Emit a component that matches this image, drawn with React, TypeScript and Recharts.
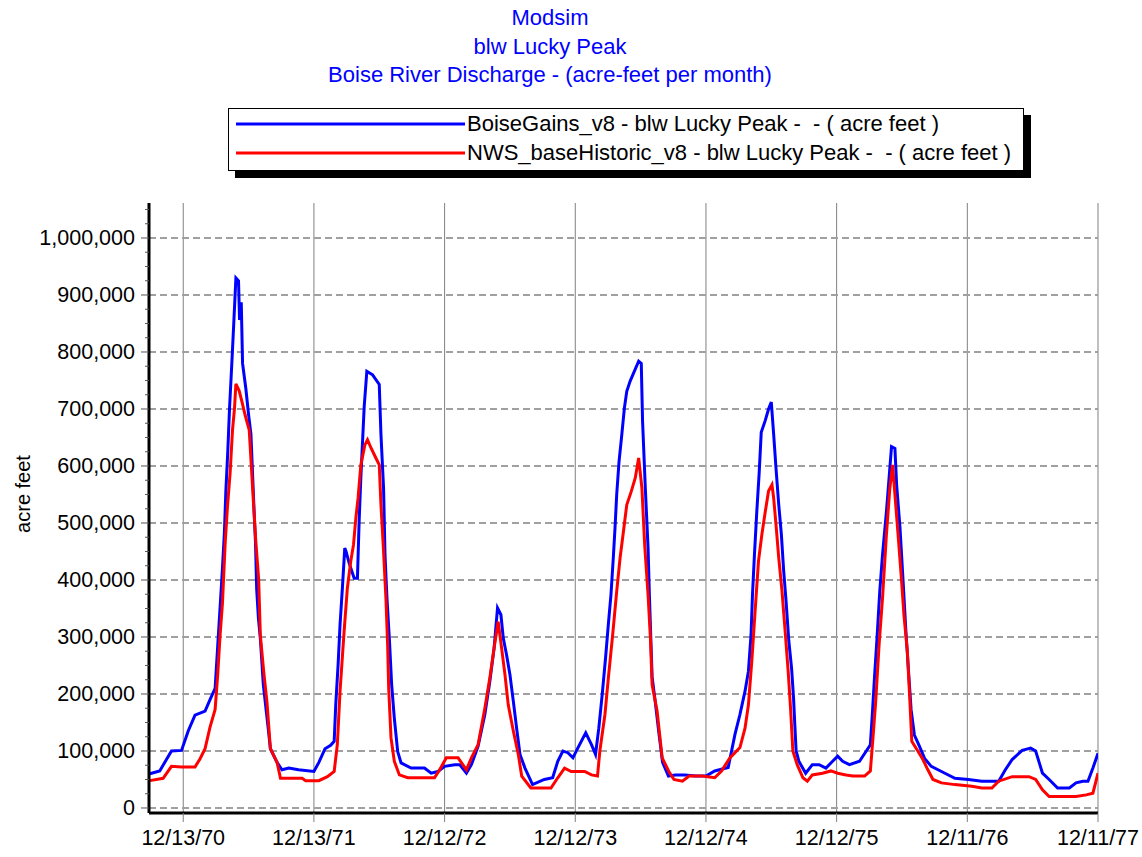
import React from 'react';
import { LineChart, Line, XAxis, YAxis, CartesianGrid, Legend } from 'recharts';

const titleLines = ['Modsim', 'blw Lucky Peak', 'Boise River Discharge - (acre-feet per month)'];
const seriesNames = [
  'BoiseGains_v8 - blw Lucky Peak -  - ( acre feet )',
  'NWS_baseHistoric_v8 - blw Lucky Peak -  - ( acre feet )',
];
const seriesColors = ['#0000FF', '#FF0000'];
const yAxisTitle = 'acre feet';

// x in years after 12/13/70
const xTickValues = [0, 1, 2, 3, 4, 5, 6, 7];
const xTickLabels = ['12/13/70', '12/13/71', '12/12/72', '12/12/73', '12/12/74', '12/12/75', '12/11/76', '12/11/77'];
const yMajorTicks = [0, 100000, 200000, 300000, 400000, 500000, 600000, 700000, 800000, 900000, 1000000];
const yMinorTicks = [
  0, 25000, 50000, 75000, 100000, 125000, 150000, 175000, 200000, 225000, 250000, 275000,
  300000, 325000, 350000, 375000, 400000, 425000, 450000, 475000, 500000, 525000, 550000, 575000,
  600000, 625000, 650000, 675000, 700000, 725000, 750000, 775000, 800000, 825000, 850000, 875000,
  900000, 925000, 950000, 975000, 1000000, 1025000, 1050000,
];

const blueTime = [
  -0.256, -0.18, -0.09, -0.013, 0.038, 0.09, 0.167, 0.205, 0.244, 0.264, 0.282, 0.3, 0.315, 0.326, 0.341, 0.354,
  0.372, 0.387, 0.403, 0.423, 0.431, 0.444, 0.454, 0.479, 0.5, 0.518, 0.528, 0.54, 0.553, 0.562, 0.575, 0.59,
  0.613, 0.649, 0.667, 0.718, 0.756, 0.808, 0.882, 1.0, 1.038, 1.085, 1.128, 1.155, 1.167, 1.185, 1.2, 1.218,
  1.236, 1.246, 1.269, 1.308, 1.333, 1.346, 1.359, 1.385, 1.405, 1.449, 1.5, 1.513, 1.533, 1.544, 1.559, 1.577,
  1.595, 1.615, 1.641, 1.667, 1.744, 1.846, 1.897, 1.949, 2.0, 2.077, 2.115, 2.167, 2.205, 2.256, 2.308, 2.346,
  2.379, 2.405, 2.431, 2.449, 2.474, 2.5, 2.526, 2.551, 2.577, 2.615, 2.673, 2.763, 2.827, 2.866, 2.905, 2.943,
  2.982, 3.021, 3.08, 3.124, 3.155, 3.18, 3.206, 3.232, 3.253, 3.273, 3.291, 3.304, 3.317, 3.335, 3.356, 3.376,
  3.394, 3.42, 3.446, 3.485, 3.505, 3.515, 3.536, 3.557, 3.567, 3.588, 3.61, 3.638, 3.668, 3.713, 3.765, 3.84,
  3.92, 4.0, 4.067, 4.17, 4.196, 4.222, 4.26, 4.299, 4.325, 4.345, 4.356, 4.371, 4.389, 4.407, 4.423, 4.454,
  4.479, 4.5, 4.518, 4.536, 4.557, 4.577, 4.595, 4.613, 4.634, 4.655, 4.67, 4.68, 4.69, 4.711, 4.763, 4.814,
  4.866, 4.918, 4.969, 5.008, 5.046, 5.098, 5.175, 5.227, 5.258, 5.273, 5.291, 5.309, 5.33, 5.351, 5.381, 5.407,
  5.42, 5.446, 5.459, 5.485, 5.51, 5.53, 5.55, 5.57, 5.595, 5.634, 5.673, 5.724, 5.802, 5.905, 6.008, 6.111,
  6.24, 6.291, 6.343, 6.42, 6.485, 6.523, 6.575, 6.626, 6.691, 6.781, 6.832, 6.884, 6.923, 6.961, 7.0,
];
const blueFlow = [
  60000, 65000, 100000, 101000, 135000, 163000, 170000, 190000, 210000, 285000, 352000, 420000, 483000, 555000, 626000, 700000,
  781000, 852000, 930000, 925000, 856000, 887000, 780000, 736000, 690000, 656000, 600000, 533000, 465000, 384000, 334000, 297000,
  216000, 142000, 104000, 80000, 67000, 70000, 67000, 64000, 80000, 104000, 110000, 117000, 181000, 251000, 322000, 386000,
  456000, 450000, 430000, 403000, 403000, 503000, 579000, 705000, 766000, 760000, 743000, 655000, 561000, 444000, 368000, 298000,
  216000, 158000, 99000, 79000, 70000, 70000, 61000, 64000, 73000, 76000, 76000, 61000, 76000, 108000, 164000, 222000,
  281000, 351000, 339000, 298000, 269000, 234000, 187000, 140000, 94000, 70000, 41000, 50000, 53000, 82000, 100000, 97000,
  88000, 106000, 132000, 111000, 94000, 140000, 199000, 264000, 322000, 374000, 439000, 491000, 550000, 608000, 655000, 702000,
  731000, 749000, 763000, 784000, 780000, 678000, 561000, 456000, 374000, 230000, 190000, 135000, 80000, 56000, 58000, 58000,
  56000, 56000, 65000, 71000, 100000, 129000, 164000, 205000, 240000, 304000, 374000, 444000, 520000, 587000, 659000, 680000,
  700000, 712000, 656000, 596000, 532000, 480000, 415000, 363000, 293000, 246000, 194000, 146000, 100000, 82000, 61000, 76000,
  76000, 70000, 82000, 91000, 82000, 76000, 82000, 100000, 111000, 164000, 234000, 298000, 380000, 444000, 520000, 596000,
  634000, 631000, 567000, 491000, 392000, 310000, 240000, 172000, 128000, 108000, 87000, 73000, 64000, 52000, 50000, 47000,
  47000, 67000, 85000, 101000, 105000, 100000, 61000, 50000, 35000, 35000, 44000, 47000, 47000, 70000, 96000,
];

const redTime = [
  -0.256, -0.154, -0.09, -0.013, 0.09, 0.128, 0.167, 0.205, 0.244, 0.264, 0.282, 0.3, 0.321, 0.338, 0.359, 0.377,
  0.392, 0.403, 0.428, 0.449, 0.474, 0.505, 0.521, 0.538, 0.556, 0.577, 0.59, 0.615, 0.641, 0.667, 0.718, 0.744,
  0.91, 0.936, 1.038, 1.103, 1.155, 1.179, 1.2, 1.231, 1.256, 1.282, 1.303, 1.321, 1.338, 1.359, 1.39, 1.41,
  1.436, 1.474, 1.5, 1.513, 1.533, 1.551, 1.564, 1.572, 1.59, 1.615, 1.654, 1.718, 1.923, 1.962, 2.013, 2.103,
  2.167, 2.205, 2.256, 2.308, 2.346, 2.379, 2.41, 2.436, 2.462, 2.487, 2.526, 2.564, 2.59, 2.66, 2.814, 2.866,
  2.918, 2.969, 3.072, 3.124, 3.17, 3.188, 3.227, 3.253, 3.284, 3.317, 3.343, 3.369, 3.394, 3.428, 3.459, 3.485,
  3.51, 3.531, 3.557, 3.575, 3.588, 3.626, 3.665, 3.716, 3.755, 3.82, 3.871, 3.974, 4.067, 4.119, 4.183, 4.26,
  4.299, 4.325, 4.351, 4.376, 4.402, 4.428, 4.454, 4.479, 4.505, 4.518, 4.536, 4.557, 4.582, 4.608, 4.629, 4.647,
  4.665, 4.698, 4.742, 4.776, 4.814, 4.892, 4.956, 5.008, 5.072, 5.124, 5.214, 5.258, 5.278, 5.299, 5.325, 5.351,
  5.381, 5.407, 5.428, 5.446, 5.472, 5.497, 5.515, 5.541, 5.56, 5.575, 5.621, 5.66, 5.698, 5.737, 5.802, 5.905,
  6.034, 6.111, 6.188, 6.24, 6.343, 6.472, 6.523, 6.575, 6.626, 6.832, 6.91, 6.961, 7.0,
];
const redFlow = [
  48000, 52000, 73000, 72000, 72000, 86000, 104000, 142000, 173000, 235000, 303000, 359000, 465000, 527000, 589000, 663000,
  700000, 744000, 732000, 713000, 689000, 663000, 600000, 533000, 465000, 402000, 303000, 241000, 185000, 104000, 80000, 52000,
  52000, 48000, 48000, 55000, 64000, 111000, 205000, 310000, 386000, 433000, 462000, 509000, 544000, 602000, 637000, 646000,
  632000, 614000, 602000, 532000, 450000, 368000, 287000, 211000, 123000, 82000, 58000, 53000, 53000, 67000, 88000, 88000,
  67000, 88000, 111000, 175000, 228000, 281000, 327000, 281000, 234000, 181000, 135000, 94000, 56000, 35000, 35000, 53000,
  70000, 64000, 64000, 58000, 56000, 100000, 164000, 228000, 299000, 380000, 439000, 486000, 532000, 555000, 579000, 614000,
  561000, 462000, 374000, 298000, 216000, 170000, 88000, 64000, 50000, 47000, 56000, 56000, 53000, 65000, 88000, 106000,
  140000, 181000, 258000, 345000, 433000, 480000, 520000, 556000, 567000, 544000, 497000, 439000, 380000, 304000, 240000, 176000,
  100000, 76000, 53000, 47000, 58000, 61000, 65000, 61000, 58000, 56000, 56000, 65000, 123000, 187000, 287000, 368000,
  480000, 561000, 602000, 550000, 474000, 398000, 339000, 275000, 190000, 117000, 100000, 85000, 67000, 50000, 44000, 41000,
  38000, 35000, 35000, 47000, 55000, 55000, 50000, 32000, 20000, 20000, 23000, 26000, 61000,
];

const blueData = blueTime.map((t, i) => ({ t, v: blueFlow[i] }));
const redData = redTime.map((t, i) => ({ t, v: redFlow[i] }));

const FONT = '"Liberation Sans", Arial, sans-serif';

const YTick = (props: any) => {
  const { x, y, payload } = props;
  const v = payload.value as number;
  const major = v % 100000 === 0;
  return (
    <g>
      <line x1={x - (major ? 8 : 4)} x2={x} y1={y} y2={y} stroke="#555" strokeWidth={1} />
      {major ? (
        <text x={x - 14} y={y} dy={7} textAnchor="end" fontSize={21.5} fontFamily={FONT} fill="#000">
          {v.toLocaleString('en-US')}
        </text>
      ) : null}
    </g>
  );
};

const XTick = (props: any) => {
  const { x, y, payload } = props;
  const idx = xTickValues.indexOf(payload.value);
  return (
    <g>
      <line x1={x} x2={x} y1={y} y2={y + 9} stroke="#808080" strokeWidth={1} />
      <text x={x} y={y + 32} textAnchor="middle" fontSize={21.5} fontFamily={FONT} fill="#000">
        {xTickLabels[idx]}
      </text>
    </g>
  );
};

const YLabel = (props: any) => {
  const vb = props.viewBox || {};
  const cx = 23;
  const cy = (vb.y || 0) + (vb.height || 0) / 2 - 14;
  return (
    <text x={cx} y={cy} transform={`rotate(-90 ${cx} ${cy})`} textAnchor="middle" dominantBaseline="central" fontSize={20} fontFamily={FONT} fill="#000">
      {yAxisTitle}
    </text>
  );
};

const renderLegend = () => (
  <div style={{ position: 'relative', width: 796, height: 63, fontFamily: FONT }}>
    <div style={{ position: 'absolute', left: 7, top: 7, width: 796, height: 63, background: '#000' }} />
    <div style={{ position: 'absolute', left: 0, top: 0, width: 794, height: 61, border: '1px solid #000', background: '#fff' }}>
      {seriesNames.map((name, i) => (
        <div key={name} style={{ position: 'absolute', left: 0, top: 1 + i * 29, height: 28, display: 'flex', alignItems: 'center' }}>
          <svg width={238} height={28} style={{ display: 'block' }}>
            <line x1={7} x2={236} y1={14} y2={14} stroke={seriesColors[i]} strokeWidth={3} />
          </svg>
          <span style={{ whiteSpace: 'pre', fontSize: 22, color: '#000', lineHeight: '28px' }}>{name}</span>
        </div>
      ))}
    </div>
  </div>
);

export default function App() {
  return (
    <div style={{ position: 'absolute', left: 0, top: 0, width: 1142, height: 857, background: '#fff', overflow: 'hidden' }}>
      <div style={{ position: 'absolute', left: 0, top: 4, width: 1100, textAlign: 'center', color: '#0000FF', fontFamily: FONT, fontSize: 22, lineHeight: '28.5px', zIndex: 2 }}>
        {titleLines.map((l) => (
          <div key={l}>{l}</div>
        ))}
      </div>
      <LineChart width={1142} height={857} margin={{ top: 203, right: 44, bottom: 0, left: 0 }}>
        <CartesianGrid horizontal={false} vertical={true} verticalValues={xTickValues} stroke="#808080" strokeWidth={1} />
        <CartesianGrid horizontal={true} vertical={false} horizontalValues={yMajorTicks} stroke="#a0a0a0" strokeWidth={2} strokeDasharray="7 4" />
        <XAxis
          type="number"
          dataKey="t"
          domain={[-0.262, 7]}
          ticks={xTickValues}
          allowDataOverflow
          height={44}
          tickSize={0}
          tickMargin={0}
          tick={<XTick />}
          axisLine={{ stroke: '#000', strokeWidth: 3 }}
          interval={0}
        />
        <YAxis
          type="number"
          dataKey="v"
          domain={[-8800, 1061400]}
          ticks={yMinorTicks}
          allowDataOverflow
          width={149}
          tickSize={0}
          tickMargin={0}
          tick={<YTick />}
          axisLine={{ stroke: '#000', strokeWidth: 3 }}
          interval={0}
          label={<YLabel />}
        />
        <Legend
          layout="horizontal"
          verticalAlign="middle"
          align="center"
          content={renderLegend}
          wrapperStyle={{ left: 228, top: 108, width: 804, height: 71 }}
        />
        <Line data={blueData} dataKey="v" name={seriesNames[0]} type="linear" stroke="#0000FF" strokeWidth={3} dot={false} isAnimationActive={false} />
        <Line data={redData} dataKey="v" name={seriesNames[1]} type="linear" stroke="#FF0000" strokeWidth={3} dot={false} isAnimationActive={false} />
      </LineChart>
    </div>
  );
}
